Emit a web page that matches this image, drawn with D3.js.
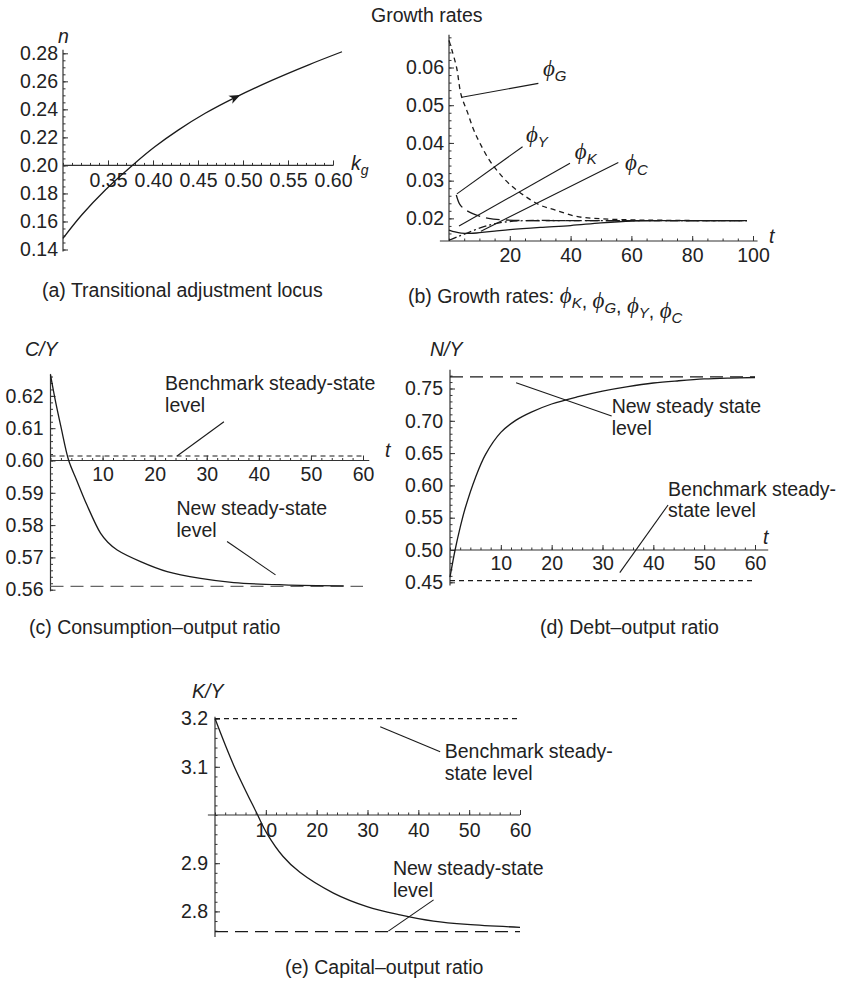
<!DOCTYPE html>
<html>
<head>
<meta charset="utf-8">
<script src="https://cdn.jsdelivr.net/npm/d3@7"></script>
<style>
  body { margin: 0; background: #fff; }
  svg text { fill: #222; }
</style>
</head>
<body>
<svg id="chart" width="846" height="981"></svg>
<script>
// ---------- data ----------

// (a) transitional adjustment locus: n against k_g
const locusKg = [0.300, 0.321, 0.347, 0.377, 0.402, 0.428, 0.458, 0.491, 0.532, 0.573, 0.610];
const locusN  = [0.148, 0.1648, 0.1825, 0.200, 0.2133, 0.2252, 0.2372, 0.2484, 0.2607, 0.2718, 0.2811];
const arrowKg = 0.497;
const aXTicks = [0.35, 0.40, 0.45, 0.50, 0.55, 0.60];
const aYTicks = [0.14, 0.16, 0.18, 0.20, 0.22, 0.24, 0.26, 0.28];

// (b) growth rates
const gT = [0, 1, 2.5, 4, 6, 8, 10, 13, 16, 20, 25, 30, 35, 42, 50, 60, 70, 85, 98];
const gPhi = [0.0672, 0.0645, 0.0600, 0.0527, 0.0483, 0.0437, 0.0402, 0.0358, 0.0325, 0.0290, 0.0259, 0.0235, 0.0222, 0.0205, 0.0199, 0.0196, 0.0195, 0.0194, 0.0194];
const yT = [2.4, 3.5, 5, 8, 13, 18, 25, 40, 60, 80, 98];
const yPhi = [0.0262, 0.0238, 0.0225, 0.0212, 0.0200, 0.0196, 0.0194, 0.0194, 0.0194, 0.0194, 0.0194];
const kT = [0, 3, 6, 10, 14, 18, 25, 40, 60, 80, 98];
const kPhi = [0.0142, 0.0152, 0.0161, 0.0174, 0.0184, 0.0190, 0.0194, 0.0194, 0.0194, 0.0194, 0.0194];
const cT = [0, 2, 4, 7, 10, 15, 20, 30, 40, 50, 60, 70, 85, 98];
const cPhi = [0.0169, 0.0164, 0.0161, 0.0160, 0.0162, 0.0166, 0.0170, 0.0176, 0.0181, 0.0188, 0.0193, 0.0194, 0.0194, 0.0194];
const bXTicks = [20, 40, 60, 80, 100];
const bYTicks = [0.02, 0.03, 0.04, 0.05, 0.06];
const bLabels = ["G", "Y", "K", "C"];
const bLabelAt = [[30.9, 0.0577], [25.3, 0.0402], [41.4, 0.0357], [57.9, 0.0328]];
const bLeaders = [
  [[4.2, 0.0521], [29.4, 0.0558]],
  [[2.6, 0.0265], [24.2, 0.0390]],
  [[3.3, 0.0180], [39.8, 0.0346]],
  [[10.5, 0.0166], [55.7, 0.0348]]
];

// (c) consumption-output ratio
const cyT = [0, 1, 2, 3.5, 5, 7, 9.6, 11, 12.8, 17.3, 22.4, 28.8, 35.2, 44.8, 56.3];
const cyVal = [0.6265, 0.6180, 0.6105, 0.6000, 0.5940, 0.5862, 0.5775, 0.5747, 0.5723, 0.5687, 0.5656, 0.5635, 0.5622, 0.5615, 0.5612];
const cBench = 0.6014, cNew = 0.5610;
const cXTicks = [10, 20, 30, 40, 50, 60];
const cYTicks = [0.56, 0.57, 0.58, 0.59, 0.60, 0.61, 0.62];

// (d) debt-output ratio
const nyT = [0, 1, 2, 3, 5, 7, 10, 13, 16, 20, 25, 30, 35, 40, 45, 50, 55, 60];
const nyVal = [0.458, 0.500, 0.535, 0.565, 0.612, 0.648, 0.682, 0.701, 0.7135, 0.726, 0.737, 0.746, 0.753, 0.7585, 0.762, 0.7648, 0.7662, 0.767];
const dBench = 0.4525, dNew = 0.768;
const dXTicks = [10, 20, 30, 40, 50, 60];
const dYTicks = [0.45, 0.50, 0.55, 0.60, 0.65, 0.70, 0.75];

// (e) capital-output ratio
const kyT = [0, 3.6, 8.2, 10.2, 13.4, 16.7, 23.3, 29.9, 36.4, 43, 49.6, 60];
const kyVal = [3.200, 3.105, 3.004, 2.962, 2.914, 2.881, 2.838, 2.810, 2.793, 2.780, 2.773, 2.767];
const eBench = 3.2, eNew = 2.758;
const eXTicks = [10, 20, 30, 40, 50, 60];
const eYTicks = [2.8, 2.9, 3.1, 3.2];

// ---------- drawing ----------
const FONT = '"Liberation Sans", Arial, Helvetica, sans-serif';
const SERIF = '"Liberation Serif", "DejaVu Serif", serif';
const FS = 19.5;
const INK = "#1a1a1a";
const svg = d3.select("#chart");
svg.append("rect").attr("width", 846).attr("height", 981).attr("fill", "#fff");

const SHORT = "5,4", LONG = "13,7";

function drawAxes(p) {
  const g = svg.append("g");
  const y0 = p.y(p.xAt), x0 = p.x(p.yAt);
  g.append("line")
    .attr("x1", p.x(p.xSpan[0])).attr("x2", p.x(p.xSpan[1]))
    .attr("y1", y0).attr("y2", y0)
    .attr("stroke", "#333").attr("stroke-width", 1.2);
  g.append("line")
    .attr("x1", x0).attr("x2", x0)
    .attr("y1", p.y(p.ySpan[0])).attr("y2", p.y(p.ySpan[1]))
    .attr("stroke", "#333").attr("stroke-width", 1.2);

  const style = s => s.attr("font-size", FS).attr("font-family", FONT).attr("color", "#333")
    .call(a => a.select(".domain").remove());

  g.append("g").attr("transform", `translate(0,${y0})`)
    .call(d3.axisBottom(p.x).tickValues(p.xMinor).tickSize(-2.5).tickFormat(""))
    .call(style);
  g.append("g").attr("transform", `translate(0,${y0})`)
    .call(d3.axisBottom(p.x).tickValues(p.xTicks).tickSize(-5).tickPadding(p.xPad || 7).tickFormat(p.xFmt))
    .call(style);
  g.append("g").attr("transform", `translate(${x0},0)`)
    .call(d3.axisLeft(p.y).tickValues(p.yMinor).tickSize(-2.5).tickFormat(""))
    .call(style);
  g.append("g").attr("transform", `translate(${x0},0)`)
    .call(d3.axisLeft(p.y).tickValues(p.yTicks).tickSize(-5).tickPadding(p.yPad || 6).tickFormat(p.yFmt))
    .call(style);
  g.selectAll(".tick text").attr("fill", "#222");
}

function curve(x, y, xs, ys, dash, color) {
  const pts = xs.map((v, i) => [v, ys[i]]);
  svg.append("path")
    .attr("d", d3.line().x(d => x(d[0])).y(d => y(d[1])).curve(d3.curveCatmullRom.alpha(0.5))(pts))
    .attr("fill", "none")
    .attr("stroke", color || INK)
    .attr("stroke-width", 1.3)
    .attr("stroke-dasharray", dash || null);
}

function hline(x, y, v, t0, t1, dash, color) {
  svg.append("line")
    .attr("x1", x(t0)).attr("x2", x(t1)).attr("y1", y(v)).attr("y2", y(v))
    .attr("stroke", color || INK).attr("stroke-width", 1.2)
    .attr("stroke-dasharray", dash);
}

function leader(x, y, seg) {
  svg.append("line")
    .attr("x1", x(seg[0][0])).attr("y1", y(seg[0][1]))
    .attr("x2", x(seg[1][0])).attr("y2", y(seg[1][1]))
    .attr("stroke", INK).attr("stroke-width", 1.1);
}

function text(xp, yp, lines, opts = {}) {
  const t = svg.append("text")
    .attr("x", xp).attr("y", yp)
    .attr("font-family", FONT).attr("font-size", opts.size || FS)
    .attr("font-style", opts.italic ? "italic" : null);
  [].concat(lines).forEach((s, i) => {
    t.append("tspan").attr("x", xp).attr("dy", i === 0 ? 0 : 21.5).text(s);
  });
  return t;
}

// phi with a subscript letter
function phi(sel, sub) {
  sel.append("tspan").attr("font-family", SERIF).attr("font-style", "italic").attr("font-size", 23).text("\u03D5");
  sel.append("tspan").attr("font-family", FONT).attr("font-style", "italic").attr("font-size", 15)
    .attr("dy", 5).text(sub);
  sel.append("tspan").attr("dy", -5).text("");
}

// ----- (a) -----
const ax = d3.scaleLinear().domain([0.30, 0.60]).range([63, 333]);
const ay = d3.scaleLinear().domain([0.14, 0.28]).range([249.5, 53.3]);
drawAxes({
  x: ax, y: ay, xAt: 0.20, yAt: 0.30, xSpan: [0.30, 0.60], ySpan: [0.1385, 0.2825],
  xTicks: aXTicks, xMinor: d3.range(0.30, 0.6001, 0.01), xFmt: d3.format(".2f"), xPad: 7.5,
  yTicks: aYTicks, yMinor: d3.range(0.14, 0.2801, 0.005), yFmt: d3.format(".2f"), yPad: 5
});
curve(ax, ay, locusKg, locusN);
{
  // arrow head on the locus, pointing along it
  const i = d3.bisectLeft(locusKg, arrowKg);
  const f = (arrowKg - locusKg[i - 1]) / (locusKg[i] - locusKg[i - 1]);
  const nAt = locusN[i - 1] + f * (locusN[i] - locusN[i - 1]);
  const px = ax(arrowKg), py = ay(nAt);
  const ang = Math.atan2(ay(locusN[i]) - ay(locusN[i - 1]), ax(locusKg[i]) - ax(locusKg[i - 1]));
  svg.append("path")
    .attr("d", "M0,0 L-11,-4.5 L-8,0 L-11,4.5 Z")
    .attr("transform", `translate(${px},${py}) rotate(${ang * 180 / Math.PI})`)
    .attr("fill", INK);
}
text(58, 43, "n", { italic: true });
{
  const t = text(351, 170, "k", { italic: true });
  t.append("tspan").attr("font-size", 14).attr("dy", 5).text("g");
}
text(42, 297, "(a) Transitional adjustment locus");

// ----- (b) -----
const bx = d3.scaleLinear().domain([0, 100]).range([449, 753]);
const by = d3.scaleLinear().domain([0.014, 0.06]).range([241, 67.5]);
drawAxes({
  x: bx, y: by, xAt: 0.014, yAt: 0, xSpan: [-3, 101.5], ySpan: [0.014, 0.0687],
  xTicks: bXTicks, xMinor: d3.range(0, 100.1, 5), xFmt: d3.format("d"),
  yTicks: bYTicks, yMinor: d3.range(0.016, 0.0681, 0.002), yFmt: d3.format(".2f"), yPad: 5
});
curve(bx, by, cT, cPhi);
curve(bx, by, kT, kPhi, "8,3,2,3");
curve(bx, by, yT, yPhi, "14,6");
curve(bx, by, gT, gPhi, SHORT);
bLeaders.forEach(s => leader(bx, by, s));
bLabels.forEach((s, i) => {
  const t = svg.append("text").attr("x", bx(bLabelAt[i][0])).attr("y", by(bLabelAt[i][1]))
    .attr("font-family", FONT).attr("font-size", FS);
  phi(t, s);
});
text(769, 243, "t", { italic: true });
text(371, 22, "Growth rates");
{
  const t = text(408, 303, "(b) Growth rates: ");
  ["K", "G", "Y", "C"].forEach((s, i) => {
    phi(t, s);
    if (i < 3) t.append("tspan").text(", ");
  });
}

// ----- (c) -----
const cx = d3.scaleLinear().domain([0, 60]).range([50.5, 363]);
const cy = d3.scaleLinear().domain([0.56, 0.62]).range([589.7, 395.9]);
drawAxes({
  x: cx, y: cy, xAt: 0.60, yAt: 0, xSpan: [0, 61.2], ySpan: [0.5595, 0.6268],
  xTicks: cXTicks, xMinor: d3.range(0, 60.1, 2), xFmt: d3.format("d"),
  yTicks: cYTicks, yMinor: d3.range(0.56, 0.6261, 0.002), yFmt: d3.format(".2f"), yPad: 7
});
hline(cx, cy, cBench, 0, 60, SHORT);
hline(cx, cy, cNew, 0, 60, LONG, "#666");
curve(cx, cy, cyT, cyVal);
leader(cx, cy, [[33.3, 0.6120], [24.3, 0.6014]]);
leader(cx, cy, [[33.9, 0.5749], [43.2, 0.5646]]);
text(cx(22.0), cy(0.6218), ["Benchmark steady-state", "level"]);
text(cx(24.2), cy(0.5831), ["New steady-state", "level"]);
text(25, 356, "C/Y", { italic: true });
text(385, 457, "t", { italic: true });
text(29, 634, "(c) Consumption\u2013output ratio");

// ----- (d) -----
const dx = d3.scaleLinear().domain([0, 60]).range([450, 755]);
const dy = d3.scaleLinear().domain([0.45, 0.75]).range([582.3, 388.5]);
drawAxes({
  x: dx, y: dy, xAt: 0.50, yAt: 0, xSpan: [0, 62.6], ySpan: [0.445, 0.779],
  xTicks: dXTicks, xMinor: d3.range(0, 60.1, 2), xFmt: d3.format("d"), xPad: 6,
  yTicks: dYTicks, yMinor: d3.range(0.45, 0.7751, 0.01), yFmt: d3.format(".2f"), yPad: 7
});
hline(dx, dy, dNew, 0, 60, LONG);
hline(dx, dy, dBench, 0, 60, SHORT);
curve(dx, dy, nyT, nyVal);
leader(dx, dy, [[13, 0.759], [31.8, 0.7075]]);
leader(dx, dy, [[42.9, 0.5697], [33.4, 0.4649]]);
text(dx(31.8), dy(0.712), ["New steady state", "level"]);
text(dx(42.9), dy(0.5836), ["Benchmark steady-", "state level"]);
text(430, 356, "N/Y", { italic: true });
text(763, 544, "t", { italic: true });
text(540, 634, "(d) Debt\u2013output ratio");

// ----- (e) -----
const ex = d3.scaleLinear().domain([0, 60]).range([215, 520]);
const ey = d3.scaleLinear().domain([2.8, 3.2]).range([911.4, 718.6]);
drawAxes({
  x: ex, y: ey, xAt: 3.0, yAt: 0, xSpan: [-1.4, 60], ySpan: [2.747, 3.204],
  xTicks: eXTicks, xMinor: d3.range(0, 60.1, 2), xFmt: d3.format("d"), xPad: 8,
  yTicks: eYTicks, yMinor: d3.range(2.76, 3.201, 0.02), yFmt: d3.format(".1f"), yPad: 7
});
hline(ex, ey, eBench, 0, 60, SHORT);
hline(ex, ey, eNew, 0, 60, LONG);
curve(ex, ey, kyT, kyVal);
leader(ex, ey, [[32.5, 3.183], [44.3, 3.131]]);
leader(ex, ey, [[43, 2.824], [34.1, 2.759]]);
text(ex(45.2), ey(3.118), ["Benchmark steady-", "state level"]);
text(ex(35.0), ey(2.8755), ["New steady-state", "level"]);
text(192, 698, "K/Y", { italic: true });
text(285, 974, "(e) Capital\u2013output ratio");
</script>
</body>
</html>
